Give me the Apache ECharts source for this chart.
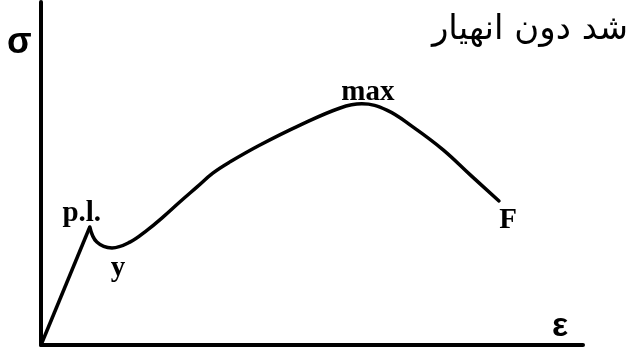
<!DOCTYPE html>
<html>
<head>
    <meta charset="utf-8">
    <script src="https://cdn.jsdelivr.net/npm/echarts@6/dist/echarts.min.js"></script>
</head>
<body style="margin:0;">
    <div id="main" style="width:636px;height:350px;"></div>
    <script type="text/javascript">
        // strain / stress in arbitrary units (0-100)
        var elasticX = [0, 9.0];
        var elasticY = [0, 34.4];
        var plasticX = [9.0, 10.3, 13.1, 16.4, 19.6, 22.5, 25.6, 28.8, 31.7, 34.9, 40.4, 47.8, 55.2, 59.2, 63.8, 68.6, 74.2, 79.2, 84.5];
        var plasticY = [34.4, 30.0, 28.3, 30.0, 33.5, 37.3, 41.7, 46.1, 50.1, 53.4, 58.3, 64.1, 69.1, 70.3, 68.5, 63.6, 56.9, 49.6, 42.0];
        var pointNames = ['p.l.', 'y', 'max', 'F'];
        var pointX = [9.0, 13.1, 59.2, 84.5];
        var pointY = [34.4, 28.3, 70.3, 42.0];
        var titleText = 'شد دون انهیار';

        function pairs(xs, ys) {
            var out = [];
            for (var i = 0; i < xs.length; i++) {
                out.push([xs[i], ys[i]]);
            }
            return out;
        }

        var labelOffsets = [[-8, -13], [6, 21], [6, -11], [9, 20]];
        var labelData = [];
        for (var i = 0; i < pointNames.length; i++) {
            labelData.push({
                name: pointNames[i],
                value: [pointX[i], pointY[i]],
                label: {offset: labelOffsets[i]}
            });
        }

        var myChart = echarts.init(document.getElementById('main'));
        var option = {
            animation: false,
            title: {
                text: titleText,
                right: 3,
                top: 8,
                textStyle: {
                    fontFamily: 'DejaVu Sans',
                    fontSize: 34,
                    fontWeight: 'normal',
                    color: '#000'
                }
            },
            grid: {left: 41, right: 53, top: 2, bottom: 5},
            xAxis: {
                type: 'value',
                min: 0,
                max: 100,
                axisLine: {onZero: false, lineStyle: {color: '#000', width: 4}},
                axisTick: {show: false},
                axisLabel: {show: false},
                splitLine: {show: false}
            },
            yAxis: {
                type: 'value',
                min: 0,
                max: 100,
                axisLine: {show: true, onZero: false, lineStyle: {color: '#000', width: 4}},
                axisTick: {show: false},
                axisLabel: {show: false},
                splitLine: {show: false}
            },
            graphic: [
                {type: 'text', left: 7, top: 25, style: {text: 'σ', font: 'bold 36px "Liberation Sans"', fill: '#000'}},
                {type: 'text', left: 552, top: 310, style: {text: 'ε', font: 'bold 34px "Liberation Sans"', fill: '#000'}}
            ],
            series: [
                {
                    type: 'line',
                    data: pairs(elasticX, elasticY),
                    showSymbol: false,
                    lineStyle: {color: '#000', width: 3.5}
                },
                {
                    type: 'line',
                    data: pairs(plasticX, plasticY),
                    smooth: 0.4,
                    showSymbol: false,
                    lineStyle: {color: '#000', width: 3.5, cap: 'round', join: 'round'}
                },
                {
                    type: 'scatter',
                    data: labelData,
                    symbolSize: 0,
                    itemStyle: {opacity: 1, color: '#000'},
                    label: {
                        show: true,
                        position: 'inside',
                        formatter: '{b}',
                        fontFamily: 'Liberation Serif',
                        fontWeight: 'bold',
                        fontSize: 29,
                        color: '#000',
                        opacity: 1,
                        textBorderWidth: 0
                    }
                }
            ]
        };
        myChart.setOption(option);
    </script>
</body>
</html>
